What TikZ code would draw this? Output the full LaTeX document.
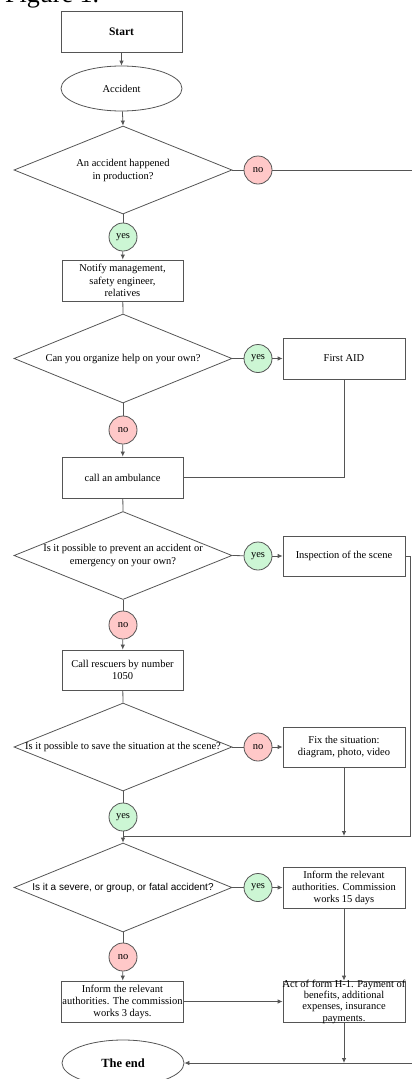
\documentclass[tikz,border=0pt]{standalone}
\usepackage{fontspec}
\setmainfont{Liberation Serif}
\setsansfont{Liberation Sans}
\usetikzlibrary{shapes.geometric,arrows.meta}
\definecolor{linegray}{HTML}{555555}
\definecolor{nofill}{HTML}{FFC8C8}
\definecolor{yesfill}{HTML}{CCF6D4}
\tikzset{
  base/.style={draw=linegray, line width=0.8pt, font=\fontsize{10.5}{12.5}\selectfont, align=center, inner sep=1pt},
  procbox/.style={base, rectangle, minimum width=121pt, minimum height=41pt},
  oval/.style={base, ellipse, minimum width=121pt, minimum height=45pt},
  decision/.style={base, diamond, minimum width=218pt, minimum height=88pt, inner sep=0pt},
  dtext/.style={font=\fontsize{10.5}{13}\selectfont, align=center, inner sep=0pt},
  yesnode/.style={base, circle, fill=yesfill, minimum size=28pt, inner sep=0pt},
  nonode/.style={base, circle, fill=nofill, minimum size=28pt, inner sep=0pt},
  link/.style={draw=linegray, line width=0.8pt},
  flow/.style={link, -{Latex[length=5pt,width=4.5pt]}},
}
\begin{document}
\begin{tikzpicture}[x=1pt, y=-1pt]
\useasboundingbox (0,0) rectangle (412,1079);

% caption, cut by the page edge
\node[anchor=base west, inner sep=0pt, font=\fontsize{26}{30}\selectfont] (fig) at (5,2.5) {Figure 1.};

% main column
\node[procbox, font=\fontsize{11.5}{13}\selectfont\bfseries] (start) at (121.5,31.5) {Start};
\node[oval] (acc) at (121.5,88.5) {Accident};
\node[decision, label={[dtext]center:An accident happened\\ in production?}] (d1) at (123,170) {};
\node[nonode] (no1) at (258,170) {no};
\coordinate (edge1) at (412,170);
\node[yesnode] (yes1) at (123,237) {yes};
\node[procbox] (notify) at (122.5,280.5) {Notify management,\\ safety engineer,\\ relatives};

\node[decision, minimum height=89pt, label={[dtext]center:Can you organize help on your own?}] (d2) at (123,358.5) {};
\node[yesnode] (yes2) at (258,358.5) {yes};
\node[procbox, minimum width=122pt] (aid) at (344,358.5) {First AID};
\node[nonode] (no2) at (123,430) {no};
\node[procbox] (amb) at (122.5,477.5) {call an ambulance};
\coordinate (aidturn) at (344,477.5);

\node[decision, label={[dtext]center:Is it possible to prevent an accident or\\ emergency on your own?}] (d3) at (123,555.5) {};
\node[yesnode] (yes3) at (258,556) {yes};
\node[procbox, minimum width=122pt, minimum height=40pt] (insp) at (344,556) {Inspection of the scene};
\coordinate (inspturn) at (410,556);
\node[nonode] (no3) at (123,625) {no};
\node[procbox, minimum height=40pt] (resc) at (122.5,670) {Call rescuers by number\\ 1050};

\node[decision, label={[dtext]center:Is it possible to save the situation at the scene?}] (d4) at (123,747) {};
\node[nonode] (no4) at (258,747) {no};
\node[procbox, minimum width=122pt, minimum height=40pt] (fix) at (344,747) {Fix the situation:\\ diagram, photo, video};
\node[yesnode] (yes4) at (123,817) {yes};
\coordinate (mergeL) at (123,836);
\coordinate (mergeM) at (344,836);
\coordinate (mergeR) at (410,836);

\node[decision, minimum height=89pt, label={[dtext, font=\sffamily\fontsize{10}{12}\selectfont]center:Is it a severe, or group, or fatal accident?}] (d5) at (123,887.5) {};
\node[yesnode] (yes5) at (258,887.5) {yes};
\node[procbox, minimum width=122pt, font=\fontsize{10.5}{12}\selectfont] (inf1) at (344,887.5) {Inform the relevant\\ authorities. Commission\\ works 15 days};
\node[nonode] (no5) at (123,957) {no};
\node[procbox, font=\fontsize{10.5}{12}\selectfont] (inf2) at (122.5,1001.5) {Inform the relevant\\ authorities. The commission\\ works 3 days.};
\node[procbox, minimum width=122pt, label={[dtext, font=\fontsize{10.5}{11.3}\selectfont]center:Act of form H-1. Payment of\\ benefits, additional\\ expenses, insurance\\ payments.}] (act) at (344,1001.5) {};
\coordinate (actdown) at (344,1063);
\coordinate (edge2) at (412,1063);
\node[oval, minimum width=122pt, minimum height=46pt, font=\fontsize{12.5}{14}\selectfont\bfseries] (end) at (123,1063) {The end};

% connectors
\draw[flow] (start) -- (acc);
\draw[flow] (acc) -- (d1.north);
\draw[link] (d1.east) -- (no1) -- (edge1);
\draw[link] (d1.south) -- (yes1);
\draw[flow] (yes1) -- (notify);

\draw[link] (notify) -- (d2.north);
\draw[link] (d2.east) -- (yes2);
\draw[flow] (yes2) -- (aid);
\draw[link] (d2.south) -- (no2);
\draw[flow] (no2) -- (amb);
\draw[link] (aid.south) -- (aidturn) -- (amb.east);

\draw[link] (amb) -- (d3.north);
\draw[link] (d3.east) -- (yes3);
\draw[flow] (yes3) -- (insp);
\draw[link] (insp.east) -- (inspturn) -- (mergeR) -- (mergeL);
\draw[link] (d3.south) -- (no3);
\draw[flow] (no3) -- (resc);

\draw[link] (resc) -- (d4.north);
\draw[link] (d4.east) -- (no4);
\draw[flow] (no4) -- (fix);
\draw[flow] (fix) -- (mergeM);
\draw[link] (d4.south) -- (yes4);
\draw[flow] (yes4) -- (d5.north);

\draw[link] (d5.east) -- (yes5);
\draw[flow] (yes5) -- (inf1);
\draw[flow] (inf1) -- (act);
\draw[link] (d5.south) -- (no5);
\draw[flow] (no5) -- (inf2);
\draw[flow] (inf2) -- (act);
\draw[flow] (act.south) -- (actdown);
\draw[flow] (edge2) -- (end);
\end{tikzpicture}
\end{document}
